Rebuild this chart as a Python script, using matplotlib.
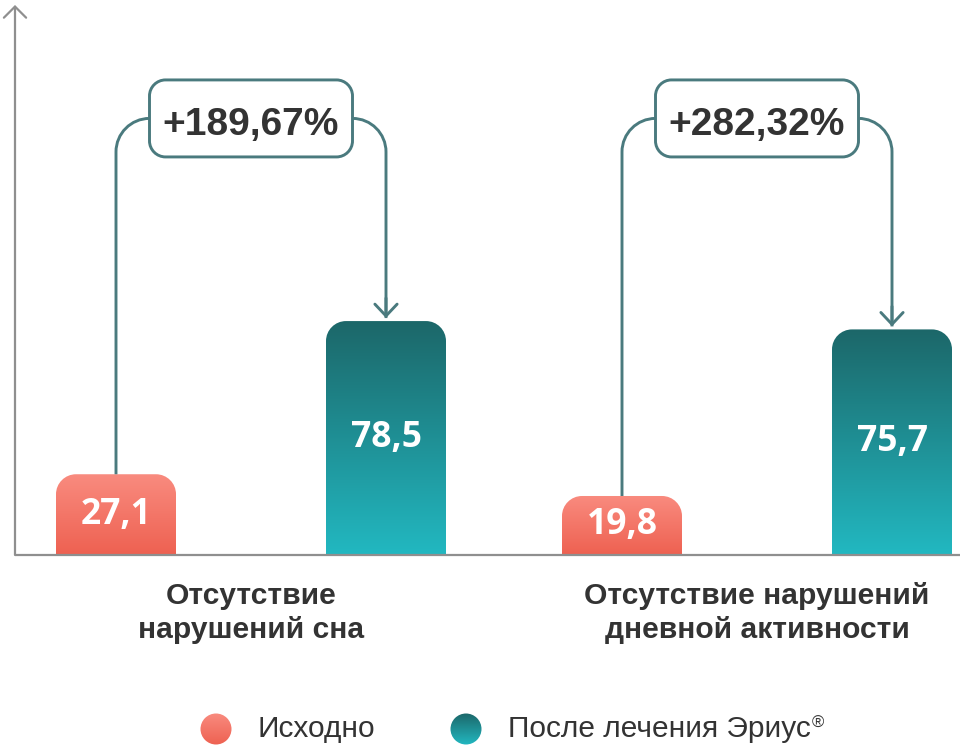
import numpy as np
import matplotlib
matplotlib.use("Agg")
import matplotlib.pyplot as plt
from matplotlib.path import Path
from matplotlib.patches import PathPatch, Circle
from matplotlib.colors import LinearSegmentedColormap

# ------------------------------------------------------------
# data
# ------------------------------------------------------------
categories = ["Отсутствие\nнарушений сна", "Отсутствие нарушений\nдневной активности"]
before = [27.1, 19.8]
after = [78.5, 75.7]
series = ["Исходно", "После лечения Эриус"]

growth = ["+" + f"{(a - b) / b * 100:.2f}%".replace(".", ",") for a, b in zip(after, before)]

# ------------------------------------------------------------
# style
# ------------------------------------------------------------
CORAL = ("#F98B7F", "#EE6151")   # top, bottom
TEAL = ("#1C6769", "#22B8C1")
LINE = "#4A7A7E"
AXIS = "#8F8F8F"
DARK = "#333333"

# pixel scale of the data axes
PX_X = 506.0     # px per category
PX_Y = 2.98      # px per unit


def dx(px):
    return px / PX_X


def dy(px):
    return px / PX_Y


K = 0.5523


def rounded_rect(x0, x1, y0, y1, rx, ry, round_bottom=True):
    rbx, rby = (rx, ry) if round_bottom else (0, 0)
    verts = [
        (x0 + rbx, y0), (x1 - rbx, y0),
        (x1 - rbx + K * rbx, y0), (x1, y0 + rby - K * rby), (x1, y0 + rby),
        (x1, y1 - ry),
        (x1, y1 - ry + K * ry), (x1 - rx + K * rx, y1), (x1 - rx, y1),
        (x0 + rx, y1),
        (x0 + rx - K * rx, y1), (x0, y1 - ry + K * ry), (x0, y1 - ry),
        (x0, y0 + rby),
        (x0, y0 + rby - K * rby), (x0 + rbx - K * rbx, y0), (x0 + rbx, y0),
        (x0 + rbx, y0),
    ]
    codes = [Path.MOVETO, Path.LINETO,
             Path.CURVE4, Path.CURVE4, Path.CURVE4,
             Path.LINETO,
             Path.CURVE4, Path.CURVE4, Path.CURVE4,
             Path.LINETO,
             Path.CURVE4, Path.CURVE4, Path.CURVE4,
             Path.LINETO,
             Path.CURVE4, Path.CURVE4, Path.CURVE4,
             Path.CLOSEPOLY]
    return Path(verts, codes)


def gradient(ax, patch, extent, colors):
    cmap = LinearSegmentedColormap.from_list("g", list(colors))
    grad = np.linspace(0, 1, 256).reshape(-1, 1)
    im = ax.imshow(grad, cmap=cmap, extent=extent, aspect="auto",
                   origin="upper", interpolation="bicubic", zorder=2)
    im.set_clip_path(patch)


fig = plt.figure(figsize=(9.6, 7.49), dpi=100)
ax = fig.add_axes([15 / 960, (749 - 555) / 749, 945 / 960, 550 / 749])

x = np.arange(len(categories))
offset = dx(135)
width = dx(120)
r_bar = 20

for i in range(len(categories)):
    for val, xc, cols in [(before[i], x[i] - offset, CORAL), (after[i], x[i] + offset, TEAL)]:
        x0, x1 = xc - width / 2, xc + width / 2
        p = PathPatch(rounded_rect(x0, x1, 0, val, dx(r_bar), dy(r_bar), round_bottom=False),
                      facecolor="none", edgecolor="none")
        ax.add_patch(p)
        gradient(ax, p, (x0, x1, 0, val), cols)
        ax.text(xc, val / 2, f"{val:.1f}".replace(".", ","), ha="center", va="center",
                color="white", fontsize=25.5, fontweight="bold", family="Open Sans", zorder=4)

    # growth box and connector
    box_y = 146.5
    box_hw, box_hh = dx(101.5), dy(38.5)
    box = PathPatch(rounded_rect(x[i] - box_hw, x[i] + box_hw, box_y - box_hh, box_y + box_hh,
                                 dx(16), dy(16)),
                    facecolor="white", edgecolor=LINE, lw=2.1, zorder=3)
    ax.add_patch(box)
    ax.text(x[i], box_y - dy(7), growth[i], ha="center", va="center", color=DARK,
            fontsize=28, fontweight="bold", family="Liberation Sans", zorder=4)

    xl, xr = x[i] - offset, x[i] + offset
    rcx = (x[i] - box_hw) - xl
    rcy = dy(rcx * PX_X)
    tip = after[i] + dy(3)
    verts = [
        (xl, before[i]), (xl, box_y - rcy),
        (xl, box_y - rcy + K * rcy), (xl + rcx - K * rcx, box_y), (xl + rcx, box_y),
    ]
    codes = [Path.MOVETO, Path.LINETO, Path.CURVE4, Path.CURVE4, Path.CURVE4]
    ax.add_patch(PathPatch(Path(verts, codes), facecolor="none", edgecolor=LINE, lw=2.1, zorder=2.5))
    verts = [
        (xr - rcx, box_y),
        (xr - rcx + K * rcx, box_y), (xr, box_y - rcy + K * rcy), (xr, box_y - rcy),
        (xr, tip),
    ]
    codes = [Path.MOVETO, Path.CURVE4, Path.CURVE4, Path.CURVE4, Path.LINETO]
    ax.add_patch(PathPatch(Path(verts, codes), facecolor="none", edgecolor=LINE, lw=2.1, zorder=2.5))
    ax.annotate("", xy=(xr, tip), xytext=(xr, tip + dy(20)),
                arrowprops=dict(arrowstyle="->,head_length=0.85,head_width=0.8",
                                color=LINE, lw=2.1, shrinkA=0, shrinkB=0))

    # category label
    ax.annotate(categories[i], xy=(x[i], 0), xytext=(0, -58), textcoords="offset pixels",
                ha="center", va="center", fontsize=21.6, fontweight="bold", color=DARK,
                family="Liberation Sans", linespacing=1.3, annotation_clip=False)

xmin, xmax = -dx(236), dx(709)
ytop = dy(550)
ax.set_xlim(xmin, xmax)
ax.set_ylim(0, ytop)

# axes lines
ax.plot([xmin, xmax], [0, 0], color=AXIS, lw=1.6, zorder=5, clip_on=False, solid_capstyle="butt")
ax.annotate("", xy=(xmin, ytop), xytext=(xmin, 0),
            arrowprops=dict(arrowstyle="->,head_length=0.8,head_width=0.8",
                            color=AXIS, lw=1.6, shrinkA=0, shrinkB=0),
            annotation_clip=False)
ax.axis("off")

# ------------------------------------------------------------
# legend
# ------------------------------------------------------------
lax = fig.add_axes([0, 0, 1, 1])
lax.set_xlim(0, 960)
lax.set_ylim(749, 0)
lax.axis("off")
leg_y = 729
for cx, tx, cols, name in [(216, 258, CORAL, series[0]), (466, 508, TEAL, series[1])]:
    c = Circle((cx, leg_y), 15.5, facecolor="none", edgecolor="none")
    lax.add_patch(c)
    gradient(lax, c, (cx - 16, cx + 16, leg_y + 16, leg_y - 16), cols)
    t = lax.text(tx, leg_y, name, ha="left", va="center", fontsize=21.5, color=DARK,
                 family="Liberation Sans")
lax.set_xlim(0, 960)
lax.set_ylim(749, 0)

fig.canvas.draw()
bb = t.get_window_extent()
lax.text(bb.x1 + 1, 749 - bb.y1 + 1, "®", ha="left", va="top", fontsize=12,
         color=DARK, family="Liberation Sans")

fig.savefig("out.png", dpi=100, facecolor="white")
